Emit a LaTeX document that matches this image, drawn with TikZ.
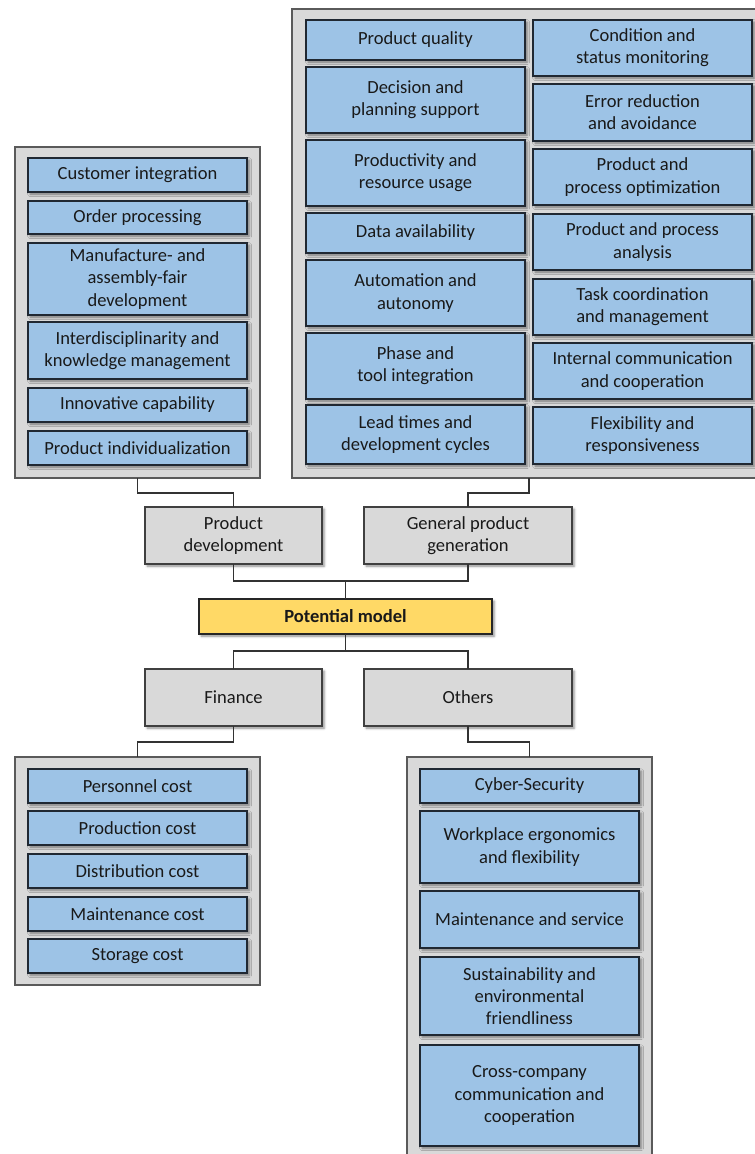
\documentclass[tikz,border=0pt]{standalone}
\usepackage{fontspec}
\setmainfont{Carlito}
\usetikzlibrary{shadows.blur}
\definecolor{blu}{RGB}{157,195,230}
\definecolor{bluedge}{RGB}{32,40,50}
\definecolor{catfill}{RGB}{217,217,217}
\definecolor{catedge}{RGB}{64,64,64}
\definecolor{contfill}{RGB}{217,217,217}
\definecolor{contedge}{RGB}{90,90,90}
\definecolor{yel}{RGB}{255,217,102}
\definecolor{linkc}{RGB}{50,50,50}
\newcommand\bx[7]{\node[#1, minimum width={(#5-#3)*0.75pt}, minimum height={(#6-#4)*0.75pt}] (#2) at ({(#3+#5)/2},{(#4+#6)/2}) {#7};}
\tikzset{
  base/.style={align=center, inner sep=0pt, outer sep=0pt, font=\fontsize{13.9}{16.6}\selectfont, line width=0.8pt, text=black!90},
  shad/.style={blur shadow={shadow xshift=1.6pt, shadow yshift=-1.6pt, shadow blur radius=1.8pt, shadow opacity=45}},
  item/.style={base, fill=blu, draw=bluedge, shad},
  cat/.style={base, fill=catfill, draw=catedge, shad},
  cont/.style={base, fill=contfill, draw=contedge},
  core/.style={base, fill=yel, draw=black!85, shad, font=\fontsize{13.9}{16.6}\selectfont\bfseries},
  link/.style={draw=linkc, line width=0.8pt}
}
\begin{document}
\begin{tikzpicture}[x=0.75pt, y=-0.75pt]
\useasboundingbox (0,0) rectangle (754,1154);
% containers
\bx{cont}{lc}{15}{147}{260}{478}{}
\bx{cont}{rc}{292}{9}{766}{478}{}
\bx{cont}{fc}{15}{757}{260}{985}{}
\bx{cont}{oc}{407}{757}{652}{1170}{}
% left items
\bx{item}{ci}{28}{158}{247}{192}{Customer integration}
\bx{item}{op}{28}{201}{247}{234}{Order processing}
\bx{item}{mf}{28}{243}{247}{315}{Manufacture- and\\assembly-fair\\development}
\bx{item}{idk}{28}{322}{247}{379}{Interdisciplinarity and\\knowledge management}
\bx{item}{inn}{28}{388}{247}{422}{Innovative capability}
\bx{item}{pin}{28}{431}{247}{465}{Product individualization}
% right items, left column
\bx{item}{pq}{306}{20}{525}{60}{Product quality}
\bx{item}{dp}{306}{67}{525}{133}{Decision and\\planning support}
\bx{item}{pr}{306}{140}{525}{206}{Productivity and\\resource usage}
\bx{item}{da}{306}{213}{525}{253}{Data availability}
\bx{item}{aa}{306}{260}{525}{326}{Automation and\\autonomy}
\bx{item}{pt}{306}{333}{525}{399}{Phase and\\tool integration}
\bx{item}{lt}{306}{405}{525}{464}{Lead times and\\development cycles}
% right items, right column
\bx{item}{cs}{533}{20}{752}{76}{Condition and\\status monitoring}
\bx{item}{er}{533}{84}{752}{141}{Error reduction\\and avoidance}
\bx{item}{po}{533}{149}{752}{205}{Product and\\process optimization}
\bx{item}{pa}{533}{214}{752}{270}{Product and process\\analysis}
\bx{item}{tc}{533}{279}{752}{335}{Task coordination\\and management}
\bx{item}{icc}{533}{343}{752}{399}{Internal communication\\and cooperation}
\bx{item}{fr}{533}{407}{752}{464}{Flexibility and\\responsiveness}
% middle
\bx{cat}{pd}{145}{507}{322}{564}{Product\\development}
\bx{cat}{gpg}{364}{507}{572}{564}{General product\\generation}
\bx{core}{pm}{199}{599}{492}{634}{Potential model}
\bx{cat}{fin}{145}{669}{322}{726}{Finance}
\bx{cat}{oth}{364}{669}{572}{726}{Others}
% finance items
\bx{item}{pc}{28}{769}{247}{803}{Personnel cost}
\bx{item}{prc}{28}{811}{247}{845}{Production cost}
\bx{item}{dc}{28}{854}{247}{888}{Distribution cost}
\bx{item}{mc}{28}{897}{247}{931}{Maintenance cost}
\bx{item}{sc}{28}{939}{247}{973}{Storage cost}
% others items
\bx{item}{cy}{420}{769}{639}{803}{Cyber-Security}
\bx{item}{we}{420}{811}{639}{883}{Workplace ergonomics\\and flexibility}
\bx{item}{ms}{420}{891}{639}{948}{Maintenance and service}
\bx{item}{su}{420}{957}{639}{1035}{Sustainability and\\environmental\\friendliness}
\bx{item}{cc}{420}{1045}{639}{1146}{Cross-company\\communication and\\cooperation}
% connectors
\coordinate (j1) at (345.5,581);
\coordinate (j2) at (345.5,651);
\draw[link] (lc.south) -- ++(0,15) -| (pd.north);
\draw[link] (rc.south) -- ++(0,15) -| (gpg.north);
\draw[link] (pd.south) |- (j1) -| (gpg.south);
\draw[link] (j1) -- (pm.north);
\draw[link] (pm.south) -- (j2);
\draw[link] (fin.north) |- (j2) -| (oth.north);
\draw[link] (fin.south) -- ++(0,16) -| (fc.north);
\draw[link] (oth.south) -- ++(0,16) -| (oc.north);
\end{tikzpicture}
\end{document}
